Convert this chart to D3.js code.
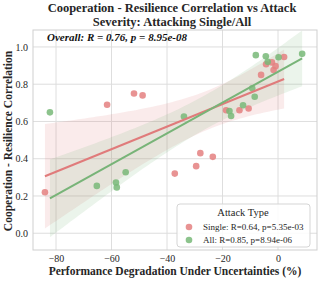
<!DOCTYPE html>
<html><head><meta charset="utf-8">
<script src="https://cdn.jsdelivr.net/npm/d3@7"></script>
<style>body{margin:0;background:#fff}svg{display:block}</style>
</head><body>
<svg id="c" width="319" height="283"></svg>
<script>
// ---- data ----
const singleX = [-84.0, -61.6, -51.9, -48.8, -37.2, -29.5, -28.0, -23.5, -18.7, -13.9, -10.6, -6.1, -4.3, -2.2, -0.9, -1.6, 2.2];
const singleY = [0.22, 0.69, 0.75, 0.74, 0.32, 0.36, 0.43, 0.41, 0.66, 0.66, 0.67, 0.85, 0.907, 0.917, 0.897, 0.876, 0.946];
const allX = [-82.2, -65.3, -58.4, -58.1, -54.9, -33.9, -17.5, -16.9, -12.6, -9.3, -8.4, -8.0, -4.4, -3.7, 0.2, 8.7];
const allY = [0.649, 0.254, 0.272, 0.246, 0.327, 0.627, 0.656, 0.629, 0.687, 0.778, 0.733, 0.956, 0.950, 0.920, 0.945, 0.963];
// fitted regression lines (endpoints)
const fitSingle = [[-84.0, 0.306], [2.2, 0.828]];
const fitAll = [[-82.2, 0.187], [8.7, 0.939]];
const xTicks = [-80, -60, -40, -20, 0];
const yTicks = [0.0, 0.2, 0.4, 0.6, 0.8, 1.0];
const seriesNames = ["Single: R=0.64, p=5.35e-03", "All: R=0.85, p=8.94e-06"];
const titleLines = ["Cooperation - Resilience Correlation vs Attack", "Severity: Attacking Single/All"];
const overallText = "Overall: R = 0.76, p = 8.95e-08";
const xLabel = "Performance Degradation Under Uncertainties (%)";
const yLabel = "Cooperation - Resilience Correlation";
const legendTitle = "Attack Type";

const colors = {single: {pt: "#e48080", line: "#e07b7b"}, all: {pt: "#78b878", line: "#78b478"}};
const serif = "'Liberation Serif','DejaVu Serif',serif";
const ink = "#262626";

const svg = d3.select("#c");
const L = 33, R = 317, T = 30, B = 250;
const x = d3.scaleLinear().domain([-88.3, 14.05]).range([L, R]);
const y = d3.scaleLinear().domain([-0.09, 1.091]).range([B, T]);

// grid
const g = svg.append("g");
g.selectAll(".gx").data(xTicks).join("line")
  .attr("x1", d => x(d)).attr("x2", d => x(d)).attr("y1", T).attr("y2", B)
  .attr("stroke", "#dedede").attr("stroke-width", 1);
g.selectAll(".gy").data(yTicks).join("line")
  .attr("y1", d => y(d)).attr("y2", d => y(d)).attr("x1", L).attr("x2", R)
  .attr("stroke", "#dedede").attr("stroke-width", 1);
svg.append("rect").attr("x", L).attr("y", T).attr("width", R - L).attr("height", B - T)
  .attr("fill", "none").attr("stroke", "#cfcfcf").attr("stroke-width", 1);

// axes (tick labels)
const xAxis = d3.axisBottom(x).tickValues(xTicks).tickSize(0).tickPadding(5).tickFormat(d3.format("d"));
const xa = svg.append("g").attr("transform", `translate(0,${B})`).call(xAxis);
xa.select(".domain").remove();
xa.selectAll("text").attr("font-family", serif).attr("font-size", 10).attr("fill", ink);
const yAxis = d3.axisLeft(y).tickValues(yTicks).tickSize(0).tickPadding(5).tickFormat(d3.format(".1f"));
const ya = svg.append("g").attr("transform", `translate(${L},0)`).call(yAxis);
ya.select(".domain").remove();
ya.selectAll("text").attr("font-family", serif).attr("font-size", 10).attr("fill", ink);

// confidence bands
function band(xs, ys, fit) {
  const n = xs.length;
  const slope = (fit[1][1] - fit[0][1]) / (fit[1][0] - fit[0][0]);
  const f = v => fit[0][1] + slope * (v - fit[0][0]);
  const xbar = d3.mean(xs);
  const sxx = d3.sum(xs, v => (v - xbar) ** 2);
  const sse = d3.sum(xs, (v, i) => (ys[i] - f(v)) ** 2);
  const s = Math.sqrt(sse / (n - 2));
  const tq = {14: 2.145, 15: 2.131, 16: 2.120}[n - 2] || 2.1;
  const pts = d3.range(0, 61).map(i => fit[0][0] + (fit[1][0] - fit[0][0]) * i / 60);
  return pts.map(v => {
    const h = tq * s * Math.sqrt(1 / n + (v - xbar) ** 2 / sxx) * 1.1;
    return {x: v, lo: f(v) - h, hi: f(v) + h};
  });
}
const area = d3.area().x(d => x(d.x)).y0(d => y(d.lo)).y1(d => y(d.hi));
svg.append("clipPath").attr("id", "pc").append("rect")
  .attr("x", L).attr("y", T).attr("width", R - L).attr("height", B - T);
const plot = svg.append("g").attr("clip-path", "url(#pc)");
plot.append("path").datum(band(singleX, singleY, fitSingle)).attr("d", area)
  .attr("fill", colors.single.line).attr("fill-opacity", 0.15);
plot.append("path").datum(band(allX, allY, fitAll)).attr("d", area)
  .attr("fill", colors.all.line).attr("fill-opacity", 0.15);

// points
plot.selectAll(".ps").data(singleX.map((v, i) => [v, singleY[i]])).join("circle")
  .attr("cx", d => x(d[0])).attr("cy", d => y(d[1])).attr("r", 3.3)
  .attr("fill", colors.single.pt).attr("fill-opacity", 0.85);
plot.selectAll(".pa").data(allX.map((v, i) => [v, allY[i]])).join("circle")
  .attr("cx", d => x(d[0])).attr("cy", d => y(d[1])).attr("r", 3.3)
  .attr("fill", colors.all.pt).attr("fill-opacity", 0.85);

// lines
const line = d3.line().x(d => x(d[0])).y(d => y(d[1]));
plot.append("path").datum(fitSingle).attr("d", line).attr("stroke", colors.single.line)
  .attr("stroke-width", 2).attr("fill", "none");
plot.append("path").datum(fitAll).attr("d", line).attr("stroke", colors.all.line)
  .attr("stroke-width", 2).attr("fill", "none");

// title
titleLines.forEach((t, i) => {
  svg.append("text").attr("x", 172).attr("y", 12 + i * 13.5).attr("text-anchor", "middle")
    .attr("font-family", serif).attr("font-weight", "bold").attr("font-size", 12.5).attr("fill", ink)
    .text(t);
});

// overall annotation
svg.append("text").attr("x", 47).attr("y", 40.5).attr("font-family", serif)
  .attr("font-weight", "bold").attr("font-style", "italic").attr("font-size", 11).attr("fill", "#111")
  .text(overallText);

// axis labels
svg.append("text").attr("x", 175).attr("y", 275).attr("text-anchor", "middle")
  .attr("font-family", serif).attr("font-weight", "bold").attr("font-size", 11.5).attr("fill", ink)
  .text(xLabel);
svg.append("text").attr("transform", "translate(12,141) rotate(-90)").attr("text-anchor", "middle")
  .attr("font-family", serif).attr("font-weight", "bold").attr("font-size", 11.5).attr("fill", ink)
  .text(yLabel);

// legend
const lg = svg.append("g");
lg.append("rect").attr("x", 177).attr("y", 204).attr("width", 133).attr("height", 43).attr("rx", 3)
  .attr("fill", "#fff").attr("fill-opacity", 0.85).attr("stroke", "#d5d5d5");
lg.append("text").attr("x", 243).attr("y", 216).attr("text-anchor", "middle")
  .attr("font-family", serif).attr("font-size", 10.5).attr("fill", ink).text(legendTitle);
[colors.single.pt, colors.all.pt].forEach((c, i) => {
  lg.append("circle").attr("cx", 189).attr("cy", 227 + i * 13).attr("r", 3.3).attr("fill", c).attr("fill-opacity", 0.85);
  lg.append("text").attr("x", 203).attr("y", 230 + i * 13).attr("font-family", serif)
    .attr("font-size", 9).attr("fill", ink).text(seriesNames[i]);
});
</script>
</body></html>
